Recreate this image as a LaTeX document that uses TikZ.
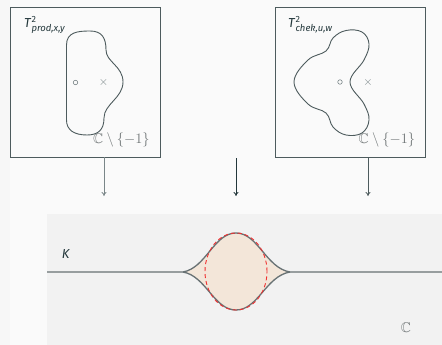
\documentclass[tikz,border=0pt]{standalone}
\usepackage{amssymb}
\usepackage{fontspec}
\setmainfont{Fira Sans}
\usetikzlibrary{arrows.meta}
\definecolor{ink}{HTML}{23373B}
\definecolor{edge}{HTML}{4D5B5D}
\definecolor{soft}{HTML}{7A8688}
\definecolor{mid}{HTML}{6E7475}
\definecolor{peach}{HTML}{F3E6D9}
\definecolor{redd}{HTML}{F03030}
\begin{document}
\begin{tikzpicture}[x=1pt,y=-1pt,
  panel/.style={draw=edge,line width=0.9pt,minimum width=150pt,minimum height=150pt,inner sep=0pt,anchor=north west},
  blob/.style={draw=edge,line width=0.9pt},
  mapar/.style={-{To[length=4pt,width=5pt]},line width=0.8pt,draw=soft},
  lbl/.style={text=ink,inner sep=0pt,font=\fontsize{13}{15}\selectfont},
  cmin/.style={text=mid,inner sep=0pt,font=\fontsize{14}{16}\selectfont},
  omark/.style={draw=soft,circle,inner sep=0pt,minimum size=4.5pt,line width=0.6pt},
  xmark/.style={text=soft,inner sep=0pt,font=\fontsize{13}{15}\selectfont}]
\useasboundingbox (0,0) rectangle (442,345);
\fill[white!97!black] (0,0) rectangle (442,345);
\fill[white!98!black] (10,0) rectangle (442,345);
\fill[white!95!black] (47,214) rectangle (442,345);
% panels
\node[panel] (lbox) at (10,7) {};
\node[panel] (rbox) at (274.5,7) {};
% left blob
\draw[blob] (66.5,45) .. controls (66.5,32) and (78,31) .. (90,31)
  .. controls (102,31) and (106,38) .. (106,50)
  .. controls (106,62) and (123,66) .. (123,82)
  .. controls (123,98) and (104,104) .. (104,118)
  .. controls (104,130) and (98,135) .. (87,135)
  .. controls (74,135) and (66.5,130) .. (66.5,120) -- cycle;
% right blob
\draw[blob] plot[smooth cycle,tension=0.65] coordinates {
  (333,38) (346,30.5) (362,32) (369,44) (364,60) (350,82) (364,104) (369,120)
  (362,133) (346,135) (333,127) (326,113) (308,104) (294,82) (308,60) (326,51)};
% markers
\node[omark] (lo) at (75.5,82.5) {};
\node[xmark] (lx) at (103.5,82.5) {$\times$};
\node[omark] (ro) at (340,82) {};
\node[xmark] (rx) at (368,82) {$\times$};
% labels
\node[lbl,anchor=base west] (lt) at (24,28) {\textit{T}\rlap{\raisebox{5.5pt}{\fontsize{9}{10}\selectfont 2}}\raisebox{-3.5pt}{\fontsize{9.5}{10}\selectfont\textit{prod,x,y}}};
\node[lbl,anchor=base west] (rt) at (288,28) {\textit{T}\rlap{\raisebox{5.5pt}{\fontsize{9}{10}\selectfont 2}}\raisebox{-3.5pt}{\fontsize{9.5}{10}\selectfont\textit{chek,u,w}}};
\node[cmin,anchor=base west] (lc) at (93,143.5) {$\mathbb{C}\setminus\{-1\}$};
\node[cmin,anchor=base west] (rc) at (358.5,143.5) {$\mathbb{C}\setminus\{-1\}$};
% arrows
\coordinate (a1) at (104,157); \coordinate (b1) at (104,196);
\coordinate (a2) at (236,158); \coordinate (b2) at (236,196);
\coordinate (a3) at (368,157); \coordinate (b3) at (368,196);
\draw[mapar] (a1) -- (b1);
\draw[mapar,draw=ink] (a2) -- (b2);
\draw[mapar,draw=edge] (a3) -- (b3);
% bottom
\coordinate (kl) at (47,272); \coordinate (kr) at (442,272);
\coordinate (c1) at (183,272); \coordinate (c2) at (290,272);
\fill[peach] (c1) .. controls (206,268) and (214,233) .. (236,233)
  .. controls (258,233) and (266,268) .. (c2)
  .. controls (266,276) and (258,310) .. (236,310)
  .. controls (214,310) and (206,276) .. (c1) -- cycle;
\draw[line width=1.3pt,draw=soft!85!black] (kl) -- (c1) .. controls (206,268) and (214,233) .. (236,233)
  .. controls (258,233) and (266,268) .. (c2) -- (kr);
\draw[line width=1.3pt,draw=soft!85!black] (c1) .. controls (206,276) and (214,310) .. (236,310)
  .. controls (258,310) and (266,276) .. (c2);
\draw[redd,line width=0.9pt,dash pattern=on 4pt off 3pt] (236,271.5) ellipse [x radius=31pt,y radius=38.5pt];
\node[lbl] (K) at (66,254) {\textit{K}};
\node[cmin] (C) at (406,328) {$\mathbb{C}$};
\end{tikzpicture}
\end{document}
